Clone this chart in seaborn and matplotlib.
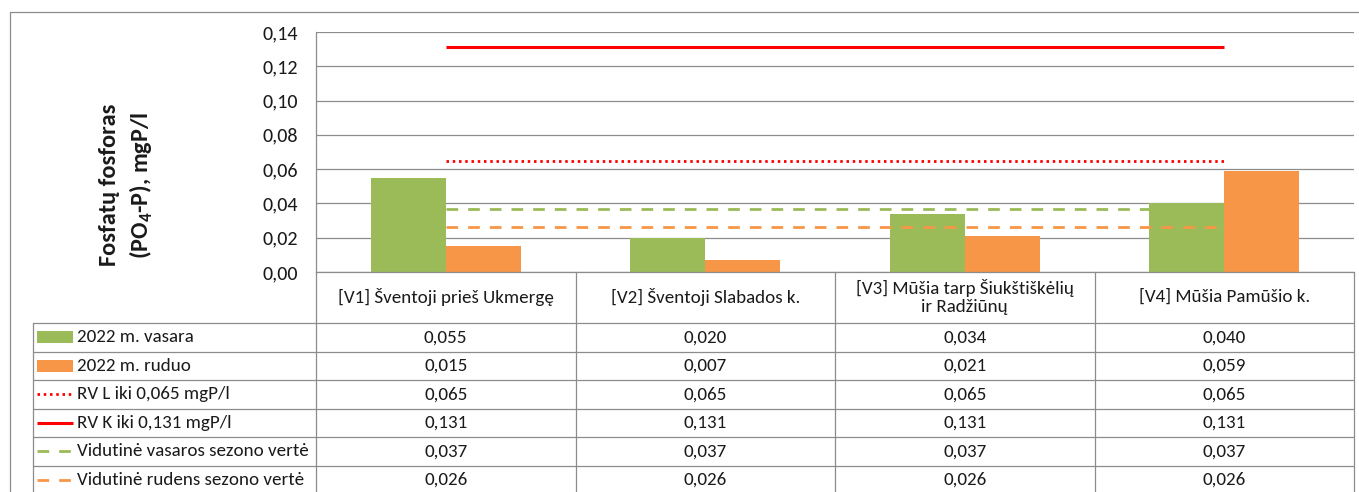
import matplotlib
matplotlib.use("Agg")
import matplotlib.pyplot as plt
from matplotlib import font_manager
from matplotlib.lines import Line2D
from matplotlib.patches import Rectangle
from matplotlib.ticker import FuncFormatter, MultipleLocator
import seaborn as sns
import pandas as pd

# ---------------- data ----------------
sites = ["[V1] Šventoji prieš Ukmergę", "[V2] Šventoji Slabados k.",
         "[V3] Mūšia tarp Šiukštiškėlių\nir Radžiūnų", "[V4] Mūšia Pamūšio k."]
summer_2022 = [0.055, 0.020, 0.034, 0.040]
autumn_2022 = [0.015, 0.007, 0.021, 0.059]
rv_l = [0.065, 0.065, 0.065, 0.065]
rv_k = [0.131, 0.131, 0.131, 0.131]
avg_summer = [0.037, 0.037, 0.037, 0.037]
avg_autumn = [0.026, 0.026, 0.026, 0.026]
series_names = ["2022 m. vasara", "2022 m. ruduo", "RV L iki 0,065 mgP/l",
                "RV K iki 0,131 mgP/l", "Vidutinė vasaros sezono vertė",
                "Vidutinė rudens sezono vertė"]
y_label = "Fosfatų fosforas\n(PO$_\\mathbf{4}$-P), mgP/l"

# ---------------- style ----------------
sns.set_style("white")
names = {f.name for f in font_manager.fontManager.ttflist}
main_font = "Carlito" if "Carlito" in names else "Lato"
plt.rcParams["font.family"] = [main_font, "DejaVu Sans"]
plt.rcParams["mathtext.fontset"] = "custom"
plt.rcParams["mathtext.rm"] = main_font
plt.rcParams["mathtext.bf"] = main_font + ":bold"

GREEN = "#9BBB59"
ORANGE = "#F79646"
RED = "#FF0000"
GRID = "#8C8C8C"
TXT = "#1a1a1a"
FS = 13.7
TICK_FS = 14.5

W, H = 1359, 492
fig = plt.figure(figsize=(W / 100, H / 100), dpi=100)

def fx(px):
    return px / W

def fy(py):
    return 1 - py / H

# main plot axes
PL, PR, PT, PB = 316, 1354, 32, 272
ax = fig.add_axes([fx(PL), fy(PB), fx(PR) - fx(PL), (PB - PT) / H])

df = pd.DataFrame({
    "site": sites * 2,
    "value": summer_2022 + autumn_2022,
    "season": [series_names[0]] * 4 + [series_names[1]] * 4,
})
sns.barplot(data=df, x="site", y="value", hue="season", order=sites,
            palette=[GREEN, ORANGE], width=0.578, saturation=1,
            legend=False, ax=ax, edgecolor="none", linewidth=0)

pos = list(range(len(sites)))
lw = 2.0
sns.lineplot(x=pos, y=rv_l, color=RED, linewidth=lw, ax=ax,
             linestyle=(0, (0.9, 1.35)), solid_capstyle="butt", dash_capstyle="butt")
sns.lineplot(x=pos, y=rv_k, color=RED, linewidth=2.2, ax=ax,
             solid_capstyle="butt")
sns.lineplot(x=pos, y=avg_summer, color=GREEN, linewidth=lw, ax=ax,
             linestyle=(0, (4.2, 3.6)), dash_capstyle="butt")
sns.lineplot(x=pos, y=avg_autumn, color=ORANGE, linewidth=lw, ax=ax,
             linestyle=(0, (4.2, 3.6)), dash_capstyle="butt")

ax.set_xlim(-0.5, len(sites) - 0.5)
ax.set_ylim(0, 0.14)
ax.yaxis.set_major_locator(MultipleLocator(0.02))
ax.yaxis.set_major_formatter(FuncFormatter(lambda v, p: f"{v:.2f}".replace(".", ",")))
ax.grid(axis="y", color=GRID, linewidth=0.9)
ax.set_axisbelow(True)
ax.set_xticks([])
ax.set_xlabel("")
ax.set_ylabel("")
ax.tick_params(axis="y", length=0, pad=13, labelsize=TICK_FS, labelcolor=TXT)
for s in ["top", "right"]:
    ax.spines[s].set_visible(False)
for s in ["left", "bottom"]:
    ax.spines[s].set_color(GRID)
    ax.spines[s].set_linewidth(0.9)

# y label
fig.text(fx(127), fy(185), y_label, rotation=90, ha="center", va="center",
         multialignment="center", fontsize=17.5, fontweight="bold", color=TXT,
         linespacing=1.35)

# ---------------- data table ----------------
TL, TB = 33, 494
HB = 323           # bottom of header row
ROW = 28.5
unit = (PR - PL) / len(sites)
tax = fig.add_axes([fx(TL), fy(TB), fx(PR) - fx(TL), (TB - PB) / H])
tax.set_xlim(-0.5 - (PL - TL) / unit, len(sites) - 0.5)
tax.set_ylim(TB, PB)
tax.axis("off")

def px2x(px):
    return -0.5 + (px - PL) / unit

left_x = px2x(TL)
kw = dict(color=GRID, linewidth=0.9, clip_on=False)
# vertical lines
for i in range(len(sites) + 1):
    tax.plot([i - 0.5, i - 0.5], [PB, TB], **kw)
tax.plot([left_x, left_x], [HB, TB], **kw)
# horizontal lines
for r in range(len(series_names) + 1):
    yy = HB + r * ROW
    tax.plot([left_x, len(sites) - 0.5], [yy, yy], **kw)

# header texts
for i, s in enumerate(sites):
    tax.text(i, (PB + HB) / 2 - 0.5, s, ha="center", va="center", fontsize=FS,
             color=TXT, linespacing=1.1)

table_rows = [summer_2022, autumn_2022, rv_l, rv_k, avg_summer, avg_autumn]
for r, vals in enumerate(table_rows):
    yc = HB + (r + 0.5) * ROW
    for i, v in enumerate(vals):
        tax.text(i, yc, f"{v:.3f}".replace(".", ","), ha="center", va="center",
                 fontsize=FS, color=TXT)
    tax.text(px2x(77), yc, series_names[r], ha="left", va="center",
             fontsize=FS, color=TXT)

# legend keys
kx0, kx1 = px2x(37), px2x(73)
key_styles = [
    ("patch", GREEN, None, None),
    ("patch", ORANGE, None, None),
    ("line", RED, (0, (0.9, 1.35)), 2.0),
    ("line", RED, "-", 2.2),
    ("line", GREEN, (0, (4.2, 3.6)), 2.0),
    ("line", ORANGE, (0, (4.2, 3.6)), 2.0),
]
for r, (kind, col, ls, klw) in enumerate(key_styles):
    yc = HB + (r + 0.5) * ROW
    if kind == "patch":
        tax.add_patch(Rectangle((kx0, yc - 6), kx1 - kx0, 12, facecolor=col,
                                edgecolor="none", clip_on=False))
    else:
        tax.add_line(Line2D([kx0, kx1], [yc, yc], color=col, linestyle=ls,
                            linewidth=klw, dash_capstyle="butt",
                            solid_capstyle="butt", clip_on=False))

# outer chart border
fig.add_artist(Line2D([fx(10), fx(10)], [fy(12), 0], color=GRID, linewidth=0.9))
fig.add_artist(Line2D([fx(10), 1], [fy(12), fy(12)], color=GRID, linewidth=0.9))

fig.savefig("out.png", dpi=100, facecolor="white")
